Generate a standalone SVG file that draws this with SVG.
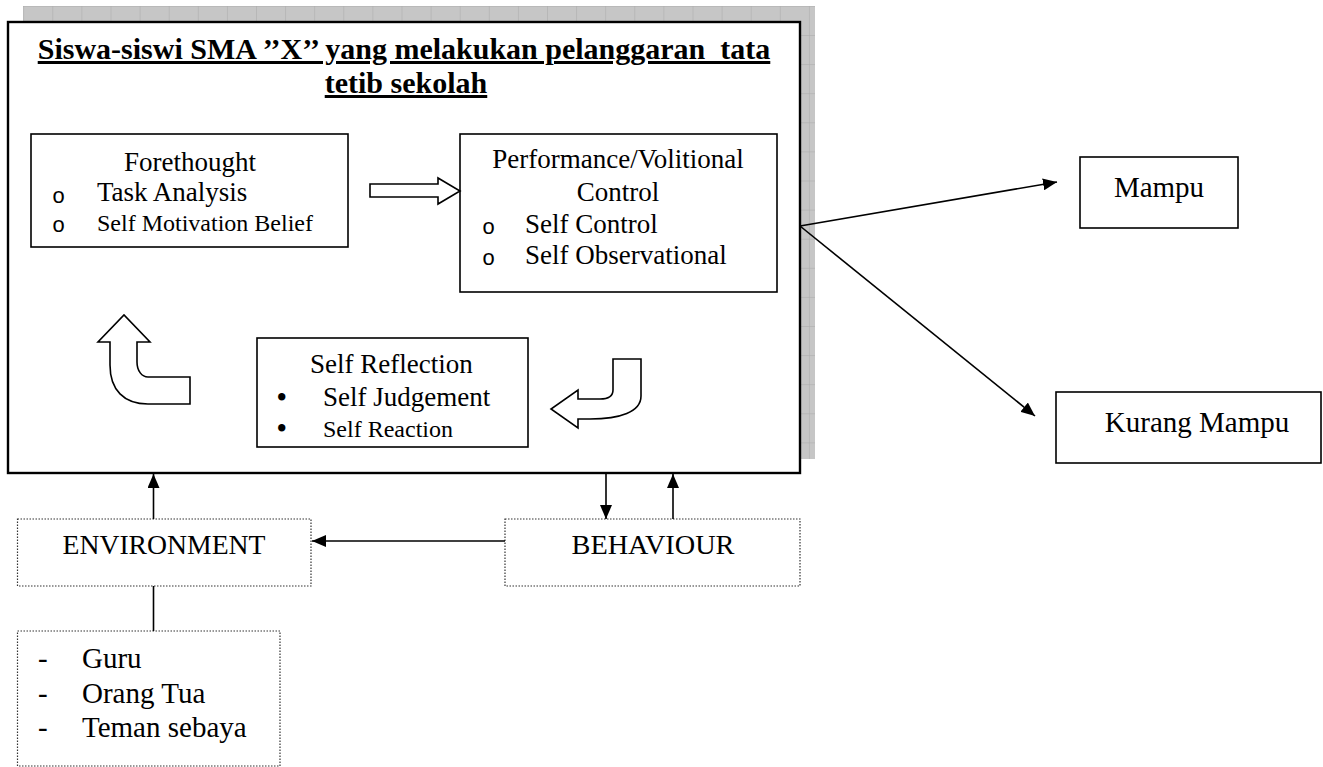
<svg xmlns="http://www.w3.org/2000/svg" width="1323" height="767" viewBox="0 0 1323 767">
<style>
  text { font-family: "Liberation Serif", "Times New Roman", serif; fill: #000; }
  .t27 { font-size: 27px; }
  .t24 { font-size: 24px; }
  .t29 { font-size: 29px; }
  .title { font-size: 30px; font-weight: bold; text-decoration: underline; }
  .box { fill: #fff; stroke: #000; stroke-width: 1.6; }
  .main { fill: #fff; stroke: #000; stroke-width: 2.4; }
  .dot { fill: #fff; stroke: #333; stroke-width: 1.2; stroke-dasharray: 1.5 1.5; }
  .conn { fill: none; stroke: #000; stroke-width: 1.6; }
  .hollow { fill: #fff; stroke: #000; stroke-width: 1.6; stroke-linejoin: miter; }
  .bul { font-family: "Liberation Mono", "Courier New", monospace; font-size: 22px; }
  .dotbul { font-size: 27px; font-weight: bold; }
</style>
<defs>
  <pattern id="grid" x="23.2" y="5.9" width="29.1" height="29.1" patternUnits="userSpaceOnUse">
    <rect width="29.1" height="29.1" fill="#c6c6c6"/>
    <path d="M0,0 H29.1 M0,0 V29.1" stroke="#a9a9a9" stroke-width="1"/>
  </pattern>
  <marker id="ah" viewBox="0 0 14 12" refX="14" refY="6" markerWidth="14" markerHeight="12" markerUnits="userSpaceOnUse" orient="auto">
    <path d="M0,0 L14,6 L0,12 Z" fill="#000"/>
  </marker>
</defs>

<rect id="grid-bg" x="23" y="6" width="792" height="453" fill="url(#grid)"/>

<g id="main">
  <rect class="main" x="8" y="22" width="792" height="451"/>
  <text class="title" x="404" y="59" text-anchor="middle" xml:space="preserve">Siswa-siswi SMA ’’X’’ yang melakukan pelanggaran  tata</text>
  <text class="title" x="406" y="93" text-anchor="middle">tetib sekolah</text>
</g>

<g id="forethought">
  <rect class="box" x="31" y="134" width="317" height="113"/>
  <text class="t27" x="190" y="171" text-anchor="middle">Forethought</text>
  <text class="bul" x="52" y="203">o</text>
  <text class="t27" x="97" y="201">Task Analysis</text>
  <text class="bul" x="52" y="232">o</text>
  <text class="t24" x="97" y="231">Self Motivation Belief</text>
</g>

<g id="performance">
  <rect class="box" x="460" y="134" width="317" height="158"/>
  <text class="t27" x="618" y="168" text-anchor="middle">Performance/Volitional</text>
  <text class="t27" x="618" y="201" text-anchor="middle">Control</text>
  <text class="bul" x="482" y="234">o</text>
  <text class="t27" x="525" y="233">Self Control</text>
  <text class="bul" x="482" y="265">o</text>
  <text class="t27" x="525" y="264">Self Observational</text>
</g>

<g id="reflection">
  <rect class="box" x="257" y="338" width="271" height="109"/>
  <text class="t27" x="310" y="373">Self Reflection</text>
  <text class="dotbul" x="277" y="406">•</text>
  <text class="t27" x="323" y="406">Self Judgement</text>
  <text class="dotbul" x="277" y="437">•</text>
  <text class="t24" x="323" y="437">Self Reaction</text>
</g>

<g id="cycle-arrows">
  <path class="hollow" d="M370,184 L438,184 L438,178 L460,191 L438,204 L438,197 L370,197 Z"/>
  <path class="hollow" d="M110,342 L110,365 C110,390 124,404 148,404 L190,404 L190,377 L148,377 C142,377 137,371 137,362 L137,342 L150,342 L124,315 L98,342 Z"/>
  <path class="hollow" d="M613,359 L641,359 L641,396 C641,412 620,419 590,419 L578,419 L578,428 L551,409 L578,390 L578,399 L600,399 C608,399 613,396 613,390 Z"/>
</g>

<g id="mampu">
  <rect class="box" x="1080" y="157" width="158" height="71"/>
  <text class="t29" x="1159" y="197" text-anchor="middle">Mampu</text>
</g>

<g id="kurang-mampu">
  <rect class="box" x="1056" y="392" width="265" height="71"/>
  <text class="t29" x="1197" y="432" text-anchor="middle">Kurang Mampu</text>
</g>

<g id="environment">
  <rect class="dot" x="17.5" y="519" width="293.5" height="67"/>
  <text class="t27" x="164" y="554" text-anchor="middle" textLength="203" lengthAdjust="spacingAndGlyphs">ENVIRONMENT</text>
</g>

<g id="behaviour">
  <rect class="dot" x="505" y="519" width="295" height="67"/>
  <text class="t27" x="653" y="554" text-anchor="middle" textLength="163" lengthAdjust="spacingAndGlyphs">BEHAVIOUR</text>
</g>

<g id="env-list">
  <rect class="dot" x="17.5" y="631" width="262.5" height="135"/>
  <text class="t29" x="38" y="668">-</text>
  <text class="t29" x="82" y="668">Guru</text>
  <text class="t29" x="38" y="703">-</text>
  <text class="t29" x="82" y="703">Orang Tua</text>
  <text class="t29" x="38" y="737">-</text>
  <text class="t29" x="82" y="737">Teman sebaya</text>
</g>

<g id="connectors">
  <line class="conn" x1="800" y1="226" x2="1057" y2="182" marker-end="url(#ah)"/>
  <line class="conn" x1="800" y1="226" x2="1035" y2="416" marker-end="url(#ah)"/>
  <line class="conn" x1="153.5" y1="519" x2="153.5" y2="474" marker-end="url(#ah)"/>
  <line class="conn" x1="606" y1="474" x2="606" y2="519" marker-end="url(#ah)"/>
  <line class="conn" x1="673" y1="519" x2="673" y2="474" marker-end="url(#ah)"/>
  <line class="conn" x1="505" y1="541" x2="312" y2="541" marker-end="url(#ah)"/>
  <line class="conn" x1="153.5" y1="586" x2="153.5" y2="631"/>
</g>
</svg>
